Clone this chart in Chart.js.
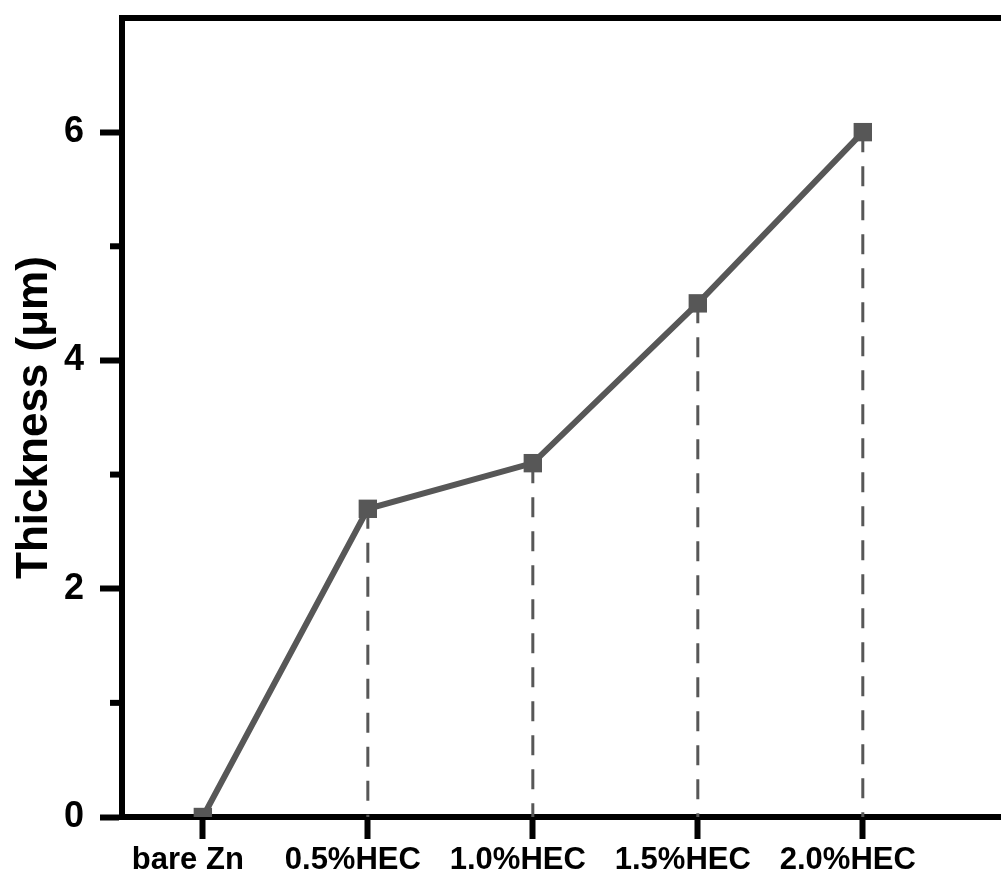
<!DOCTYPE html>
<html>
<head>
<meta charset="utf-8">
<script src="https://cdn.jsdelivr.net/npm/chart.js@4"></script>
<style>
  html, body { margin: 0; padding: 0; background: #fff; overflow: hidden; }
  #wrap { width: 1040px; height: 884px; }
</style>
</head>
<body>
<div id="wrap"><canvas id="thicknessChart" width="1040" height="884"></canvas></div>
<script>
const categories = ["bare Zn", "0.5%HEC", "1.0%HEC", "1.5%HEC", "2.0%HEC"];
const thickness = [0, 2.7, 3.1, 4.5, 6.0];
const yMajorTicks = [0, 2, 4, 6];
const yMinorTicks = [1, 3, 5];

const lineGrey = "#575757";

// main series as x/y points on a linear x scale
const mainPoints = thickness.map((v, i) => ({ x: i, y: v }));

// vertical dashed drop lines from each point to the axis (not for bare Zn)
const dropSets = thickness.map((v, i) => ({ x: i, v: v })).filter(p => p.v > 0).map(p => ({
  data: [{ x: p.x, y: p.v }, { x: p.x, y: 0 }],
  borderColor: lineGrey,
  borderWidth: 3,
  borderDash: [20, 14],
  pointRadius: 0,
  order: 2
}));

const frame = {
  id: "frame",
  afterDraw(chart) {
    const { ctx, chartArea } = chart;
    const y = chart.scales.y;
    ctx.save();
    ctx.strokeStyle = "#000";
    ctx.lineWidth = 6;
    ctx.beginPath();
    ctx.moveTo(chartArea.left - 3, chartArea.top);
    ctx.lineTo(chartArea.right, chartArea.top);
    ctx.moveTo(chartArea.right, chartArea.top);
    ctx.lineTo(chartArea.right, chartArea.bottom);
    ctx.stroke();
    // short minor ticks on the y axis
    yMinorTicks.forEach(v => {
      const py = y.getPixelForValue(v);
      ctx.beginPath();
      ctx.moveTo(chartArea.left - 12, py);
      ctx.lineTo(chartArea.left, py);
      ctx.stroke();
    });
    ctx.restore();
  }
};

Chart.defaults.font.family = "'Liberation Sans', Arial, sans-serif";
Chart.defaults.font.weight = "bold";
Chart.defaults.color = "#000";

new Chart(document.getElementById("thicknessChart").getContext("2d"), {
  type: "line",
  data: {
    datasets: [{
      data: mainPoints,
      borderColor: lineGrey,
      backgroundColor: lineGrey,
      borderWidth: 6,
      pointStyle: "rect",
      pointRadius: 13,
      pointHoverRadius: 13,
      pointBorderWidth: 0,
      order: 1
    }, ...dropSets]
  },
  options: {
    responsive: false,
    animation: false,
    layout: { autoPadding: false, padding: { top: 18, right: 0, left: 0, bottom: 0 } },
    plugins: { legend: { display: false }, tooltip: { enabled: false } },
    scales: {
      x: {
        type: "linear",
        min: -0.49,
        max: 5.074,
        afterBuildTicks: s => { s.ticks = categories.map((c, i) => ({ value: i })); },
        afterFit: s => { s.height = 67; s.paddingLeft = 0; s.paddingRight = 0; },
        border: { display: true, color: "#000", width: 6 },
        grid: { drawOnChartArea: false, drawTicks: true, tickLength: 22, tickWidth: 6, tickColor: "#000" },
        ticks: {
          padding: 3,
          labelOffset: -15,
          maxRotation: 0,
          font: { size: 31, weight: "bold" },
          callback: v => categories[v] ?? ""
        }
      },
      y: {
        min: 0,
        max: 7,
        afterBuildTicks: s => { s.ticks = yMajorTicks.map(v => ({ value: v })); },
        afterFit: s => { s.width = 122; s.paddingTop = 0; s.paddingBottom = 0; },
        border: { display: true, color: "#000", width: 6 },
        grid: { drawOnChartArea: false, drawTicks: true, tickLength: 22, tickWidth: 6, tickColor: "#000" },
        ticks: {
          padding: 16,
          font: { size: 36, weight: "bold" },
          callback: v => String(v)
        },
        title: {
          display: true,
          text: "Thickness (μm)",
          font: { size: 44, weight: "bold" },
          padding: { top: 8, bottom: 0 }
        }
      }
    }
  },
  plugins: [frame]
});
</script>
</body>
</html>
